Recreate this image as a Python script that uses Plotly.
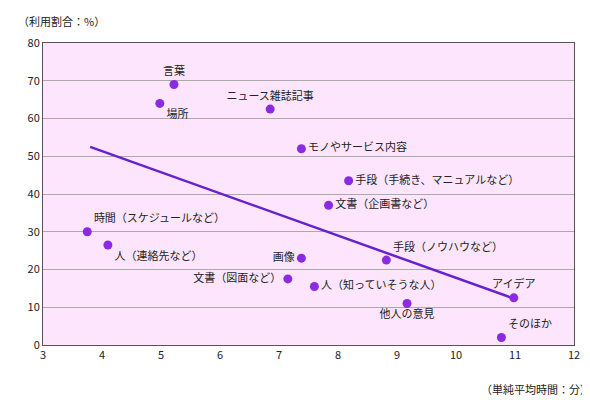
import plotly.graph_objects as go

labels = ["言葉","場所","ニュース雑誌記事","モノやサービス内容","手段（手続き、マニュアルなど）","文書（企画書など）",
          "時間（スケジュールなど）","人（連絡先など）","画像","手段（ノウハウなど）","文書（図面など）",
          "人（知っていそうな人）","他人の意見","アイデア","そのほか"]
xs = [5.22,4.98,6.85,7.38,8.18,7.84,3.75,4.1,7.38,8.82,7.15,7.6,9.17,10.98,10.77]
ys = [69,64,62.5,52,43.5,37,30,26.5,23,22.5,17.5,15.5,11,12.5,2]
pos = ["top center","bottom right","top center","middle right","middle right","middle right",
       "top right","bottom right","middle left","top right","middle left","middle right",
       "bottom center","top center","top right"]
trend_x = [3.8, 10.98]
trend_y = [52.5, 12.3]

fig = go.Figure()
fig.add_trace(go.Scatter(x=trend_x, y=trend_y, mode="lines", line=dict(color="#6622cc", width=2.5), hoverinfo="skip"))
fig.add_trace(go.Scatter(x=xs, y=ys, mode="markers+text", text=labels, textposition=pos,
                         marker=dict(color="#8a2be2", size=9),
                         textfont=dict(size=11, color="#222", family="Noto Sans CJK JP")))
fig.update_layout(width=590, height=400, showlegend=False, paper_bgcolor="white", plot_bgcolor="#fde6fd",
                  margin=dict(l=35, r=24, t=35, b=63), font=dict(family="Noto Sans CJK JP", size=11, color="#222"),
                  annotations=[dict(text="（利用割合：%）", xref="paper", yref="paper", x=-0.05, y=1.0, yshift=12,
                                    xanchor="left", yanchor="bottom", showarrow=False, font=dict(size=11)),
                               dict(text="（単純平均時間：分）", xref="paper", yref="paper", x=1.035, y=0, yshift=-34,
                                    xanchor="right", yanchor="top", showarrow=False, font=dict(size=11))])
fig.update_xaxes(range=[3,12], dtick=1, showgrid=False, showline=True, linecolor="#555", mirror=True, ticks="", zeroline=False)
fig.update_yaxes(range=[0,80], dtick=10, gridcolor="#aaa", showline=True, linecolor="#555", mirror=True, zeroline=False)
fig.write_html("out.html")
